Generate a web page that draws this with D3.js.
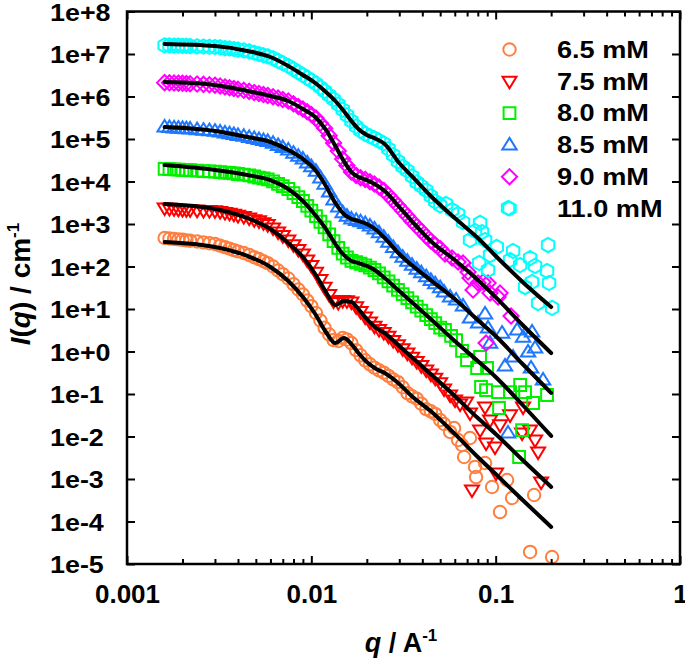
<!DOCTYPE html>
<html>
<head>
<meta charset="utf-8">
<script src="https://cdn.jsdelivr.net/npm/d3@7"></script>
<style>
  body { margin: 0; background: #fff; }
  text { font-family: "Liberation Sans", Arial, sans-serif; font-weight: bold; fill: #000; }
</style>
</head>
<body>
<svg id="canvas"></svg>
<script>
// legend labels, one per concentration
let labels = ['6.5 mM', '7.5 mM', '8.0 mM', '8.5 mM', '9.0 mM', '11.0 mM']

// q grid of the dense low-q part of every data set
let qData = [0.0016, 0.0017, 0.0018, 0.0019, 0.002, 0.0021, 0.0022, 0.0024, 0.0026, 0.0028,
  0.003, 0.0032, 0.0034, 0.0036, 0.0038, 0.004, 0.0043, 0.0046, 0.0049, 0.0052,
  0.0055, 0.0058, 0.0062, 0.0066, 0.007, 0.0075, 0.008, 0.0085, 0.009, 0.0095,
  0.01, 0.0106, 0.0112, 0.0118, 0.0125, 0.0132, 0.014, 0.0148, 0.0156, 0.0165,
  0.0175, 0.0185, 0.0196, 0.0208, 0.022, 0.0233, 0.0247, 0.0262, 0.0278, 0.0295,
  0.0313, 0.0332, 0.0352, 0.0373, 0.0395, 0.042, 0.0445, 0.047, 0.05]

let iData65 = [468, 456, 446, 434, 425, 411, 405, 387, 369, 353,
  338, 310, 285, 264, 243, 227, 208, 187, 165, 150,
  133, 120, 100, 80.5, 65.9, 52.2, 38.5, 28.8, 21.9, 15.8,
  11.7, 8.05, 5.36, 3.61, 2.51, 1.86, 1.77, 2.08, 1.92, 1.58,
  1.08, 0.814, 0.621, 0.5, 0.416, 0.361, 0.319, 0.267, 0.221, 0.19,
  0.144, 0.105, 0.0883, 0.078, 0.0591, 0.044, 0.0392, 0.034, 0.0244]
let iData75 = [2380, 2320, 2270, 2210, 2180, 2160, 2150, 2110, 2080, 2060,
  2040, 1960, 1850, 1780, 1680, 1590, 1500, 1380, 1260, 1180,
  1070, 963, 805, 648, 530, 420, 322, 250, 197, 142,
  105, 72.6, 48.9, 32.4, 21.8, 15.4, 14.1, 15.8, 15.5, 14.6,
  11.3, 8.73, 6.45, 4.94, 3.92, 3.26, 2.8, 2.27, 1.8, 1.44,
  1.15, 0.912, 0.726, 0.579, 0.463, 0.365, 0.292, 0.235, 0.184]
let iData80 = [19800, 19500, 19300, 19000, 18800, 18600, 18400, 18000, 17600, 17300,
  17000, 16600, 16200, 15900, 15500, 15000, 14500, 13900, 13100, 12400,
  11800, 11200, 10100, 8830, 7750, 6660, 5300, 4270, 3480, 2670,
  2070, 1530, 1130, 836, 572, 396, 275, 201, 163, 135,
  126, 116, 106, 93.7, 82.7, 69.2, 55.7, 44.6, 35.5, 28.3,
  22.5, 18, 14.3, 11.4, 9.12, 7.19, 5.75, 4.63, 3.63]
let iData85 = [1.92e5, 1.87e5, 1.83e5, 1.81e5, 1.78e5, 1.75e5, 1.72e5, 1.66e5, 1.62e5, 1.58e5,
  1.54e5, 1.46e5, 1.39e5, 1.33e5, 1.28e5, 1.22e5, 1.16e5, 1.09e5, 1.03e5, 9.73e4,
  9.22e4, 8.78e4, 7.96e4, 7.07e4, 6.31e4, 5.51e4, 4.66e4, 3.94e4, 3.38e4, 2.74e4,
  2.25e4, 1.75e4, 1.22e4, 8690, 5660, 3710, 2540, 1850, 1530, 1310,
  1220, 1130, 1030, 897, 767, 624, 492, 373, 283, 212,
  167, 133, 107, 86.9, 71.5, 57.9, 47.3, 39.4, 31.9]
let iData90 = [2.12e6, 2.1e6, 2.08e6, 2.06e6, 2.04e6, 2.02e6, 2.0e6, 1.97e6, 1.93e6, 1.89e6,
  1.85e6, 1.77e6, 1.68e6, 1.61e6, 1.54e6, 1.48e6, 1.4e6, 1.32e6, 1.24e6, 1.18e6,
  1.11e6, 1.06e6, 9.89e5, 9.17e5, 8.5e5, 7.84e5, 6.73e5, 5.82e5, 5.08e5, 4.37e5,
  3.77e5, 3.12e5, 2.34e5, 1.78e5, 1.2e5, 8.09e4, 5.19e4, 3.37e4, 2.37e4, 1.67e4,
  1.39e4, 1.22e4, 1.12e4, 9890, 8730, 7420, 6170, 4760, 3610, 2710,
  2040, 1530, 1150, 883, 681, 516, 396, 326, 264]
let iData110 = [1.6e7, 1.59e7, 1.58e7, 1.57e7, 1.56e7, 1.55e7, 1.54e7, 1.52e7, 1.5e7, 1.48e7,
  1.46e7, 1.43e7, 1.38e7, 1.35e7, 1.31e7, 1.27e7, 1.22e7, 1.15e7, 1.07e7, 1.0e7,
  9.37e6, 8.83e6, 7.92e6, 6.92e6, 6.07e6, 5.22e6, 4.41e6, 3.73e6, 3.21e6, 2.75e6,
  2.38e6, 2.0e6, 1.64e6, 1.35e6, 1.07e6, 8.59e5, 6.52e5, 4.89e5, 3.63e5, 2.65e5,
  1.98e5, 1.58e5, 1.32e5, 1.16e5, 1.04e5, 9.12e4, 7.84e4, 5.85e4, 4.18e4, 2.99e4,
  2.24e4, 1.8e4, 1.32e4, 9600, 7790, 6200, 4530, 3400, 2740]

// noisy high-q points, own q values per data set
let qTail65 = [0.0525, 0.0566, 0.0595, 0.0625, 0.0657, 0.0674, 0.0726, 0.0773, 0.0783, 0.0876, 0.0956, 0.1056, 0.1153, 0.1227, 0.1537, 0.1616, 0.2023]
let iTail65 = [0.0197, 0.0128, 0.0158, 0.00827, 0.00631, 0.00329, 0.00922, 0.00192, 0.00111, 0.00238, 6.48e-4, 1.67e-4, 9.47e-4, 3.57e-4, 1.92e-5, 4.2e-4, 1.46e-5]
let qTail75 = [0.0525, 0.0566, 0.0602, 0.0641, 0.0691, 0.0726, 0.0744, 0.0823, 0.0876, 0.0887, 0.0932, 0.0992, 0.1005, 0.1056, 0.1197, 0.1391, 0.1408, 0.1537, 0.1636, 0.1699, 0.1764]
let iTail75 = [0.131, 0.0947, 0.0723, 0.0582, 0.0648, 0.0357, 5.51e-4, 0.0142, 0.0494, 0.00703, 0.0244, 0.00566, 0.00138, 0.0187, 0.0321, 0.0121, 0.0494, 0.0142, 0.00827, 0.00432, 8.5e-4]
let qTail80 = [0.0531, 0.0573, 0.061, 0.0657, 0.0699, 0.0793, 0.0823, 0.0833, 0.0887, 0.0898, 0.103, 0.1043, 0.1197, 0.134, 0.1357, 0.1391, 0.1444, 0.1596, 0.19]
let iTail80 = [3.21, 2.32, 1.86, 1.03, 0.631, 0.409, 0.742, 0.146, 0.124, 0.409, 0.111, 0.0468, 0.111, 0.00329, 0.163, 0.0142, 0.111, 0.0614, 0.0947]
let qTail85 = [0.0525, 0.0566, 0.061, 0.0665, 0.0726, 0.0803, 0.0876, 0.0909, 0.0932, 0.1083, 0.1124, 0.1167, 0.1243, 0.1307, 0.1408, 0.1499, 0.1556, 0.1576, 0.1636, 0.1808]
let iTail85 = [25.1, 19.2, 16.3, 11.8, 6.14, 4.69, 7.63, 3.57, 1.58, 2.72, 0.456, 0.0121, 0.742, 3.21, 2.19, 0.973, 0.409, 2.88, 1.21, 0.214]
let qTail90 = [0.0531, 0.058, 0.0625, 0.0665, 0.0708, 0.0726, 0.0754, 0.0803, 0.0854, 0.0887, 0.0909, 0.0932, 0.103, 0.1056, 0.1212]
let iTail90 = [197, 158, 128, 121, 74.2, 53.6, 28.0, 40.9, 43.2, 1.58, 40.9, 23.8, 19.2, 23.8, 6.84]
let qTail110 = [0.0538, 0.058, 0.0625, 0.0665, 0.0726, 0.0773, 0.0813, 0.0823, 0.0843, 0.0876, 0.0909, 0.0932, 0.1014, 0.1167, 0.1197, 0.1243, 0.1357, 0.1444, 0.1537, 0.1576, 0.1636, 0.1699, 0.19, 0.1924, 0.1948, 0.2023]
let iTail110 = [2960, 2130, 1720, 1110, 420, 684, 121, 1060, 648, 420, 82.7, 186, 288, 2380, 142, 232, 108, 32.9, 158, 43.2, 103, 13.8, 78.4, 320, 40.9, 10.6]

// model fits (black lines)
let qFit = [0.0016, 0.003, 0.0045, 0.006, 0.0075, 0.009, 0.0105, 0.012, 0.0135, 0.015, 0.0165, 0.018,
  0.02, 0.0225, 0.025, 0.03, 0.035, 0.045, 0.06, 0.08, 0.1, 0.14, 0.2]
let iFit65 = [377, 288, 177, 97.3, 45.6, 19.1, 7.62, 2.88, 1.58, 2.08, 1.5, 0.923,
  0.566, 0.387, 0.312, 0.172, 0.0897, 0.0377, 0.0115, 0.0033, 0.00131, 3.21e-4, 7.43e-5]
let iFit75 = [2960, 2250, 1380, 762, 357, 167, 66.7, 25.1, 12.4, 15.4, 14.6, 10.0,
  5.82, 3.57, 2.72, 1.35, 0.743, 0.28, 0.0897, 0.0272, 0.0115, 0.0028, 6.49e-4]
let iFit80 = [2.44e4, 1.87e4, 1.42e4, 1.08e4, 6660, 3480, 1630, 762, 338, 187, 135, 121,
  103, 78.3, 53.6, 26.5, 14.6, 5.51, 1.77, 0.597, 0.251, 0.0551, 0.0103]
let iFit85 = [1.91e5, 1.54e5, 1.11e5, 8.5e4, 5.51e4, 3.38e4, 1.87e4, 7830, 3120, 1720, 1310, 1180,
  1000, 723, 469, 197, 108, 45.6, 17.2, 5.51, 2.32, 0.508, 0.106]
let iFit90 = [2.19e6, 1.87e6, 1.35e6, 1.03e6, 7.83e5, 5.08e5, 3.3e5, 1.63e5, 6.84e4, 3.03e4, 1.67e4, 1.28e4,
  1.08e4, 8280, 5970, 2510, 1180, 377, 142, 48.1, 19.1, 4.2, 0.92]
let iFit110 = [1.72e7, 1.54e7, 1.18e7, 8.5e6, 5.22e6, 3.21e6, 2.08e6, 1.28e6, 7.83e5, 4.56e5, 2.65e5, 1.72e5,
  1.24e5, 1.0e5, 7.63e4, 2.72e4, 1.35e4, 4320, 1380, 469, 177, 43.2, 11.1]

let xTicks = [0.001, 0.01, 0.1, 1]
let yTicks = [1e-5, 1e-4, 1e-3, 1e-2, 1e-1, 1, 1e1, 1e2, 1e3, 1e4, 1e5, 1e6, 1e7, 1e8]

let w = 685
let h = 662
let plotL = 127
let plotR = 680
let plotT = 11.5
let plotB = 564

// open marker outlines
let shapes = {
  circle: 'M6.2,0A6.2,6.2 0 1,1 -6.2,0A6.2,6.2 0 1,1 6.2,0Z',
  triDown: 'M-7,-4.6L7,-4.6L0,7Z',
  square: 'M-5.9,-5.9H5.9V5.9H-5.9Z',
  triUp: 'M0,-7L7.2,4.6L-7.2,4.6Z',
  diamond: 'M0,-7.6L7.6,0L0,7.6L-7.6,0Z',
  hexagon: 'M0,-7.2L6.2,-3.6L6.2,3.6L0,7.2L-6.2,3.6L-6.2,-3.6Z'
}

let series = [
  { label: labels[0], color: '#ff7f3f', shape: 'circle', i: iData65, qt: qTail65, it: iTail65, fit: iFit65 },
  { label: labels[1], color: '#ff0000', shape: 'triDown', i: iData75, qt: qTail75, it: iTail75, fit: iFit75 },
  { label: labels[2], color: '#00f000', shape: 'square', i: iData80, qt: qTail80, it: iTail80, fit: iFit80 },
  { label: labels[3], color: '#1e78ff', shape: 'triUp', i: iData85, qt: qTail85, it: iTail85, fit: iFit85 },
  { label: labels[4], color: '#ff00ff', shape: 'diamond', i: iData90, qt: qTail90, it: iTail90, fit: iFit90 },
  { label: labels[5], color: '#00ffff', shape: 'hexagon', i: iData110, qt: qTail110, it: iTail110, fit: iFit110 }
]

let canvas = d3.select('#canvas').attr('width', w).attr('height', h)

let xScale = d3.scaleLog().domain([0.001, 1]).range([plotL, plotR])
let yScale = d3.scaleLog().domain([1e-5, 1e8]).range([plotB, plotT])

// data markers
series.forEach((s) => {
  let pts = qData.map((q, k) => [q, s.i[k]]).concat(s.qt.map((q, k) => [q, s.it[k]]))
  canvas.append('g')
    .selectAll('path')
    .data(pts)
    .enter()
    .append('path')
    .attr('d', shapes[s.shape])
    .attr('transform', (d) => 'translate(' + xScale(d[0]) + ',' + yScale(d[1]) + ')')
    .attr('fill', 'none')
    .attr('stroke', s.color)
    .attr('stroke-width', 2)
})

// fit lines on top
let line = d3.line()
  .x((d) => xScale(d[0]))
  .y((d) => yScale(d[1]))
  .curve(d3.curveMonotoneX)

series.forEach((s) => {
  canvas.append('path')
    .datum(qFit.map((q, k) => [q, s.fit[k]]))
    .attr('d', line)
    .attr('fill', 'none')
    .attr('stroke', '#000')
    .attr('stroke-width', 4)
    .attr('stroke-linecap', 'round')
})

// axes: inward ticks on all four sides
let xMinor = xScale.ticks().filter((d) => !xTicks.some((t) => Math.abs(t - d) / t < 1e-9))
let yMinor = yScale.ticks().filter((d) => !yTicks.some((t) => Math.abs(t - d) / t < 1e-9))

let yFormat = (d) => {
  let e = Math.round(Math.log10(d))
  return '1e' + (e < 0 ? '-' : '+') + Math.abs(e)
}

let addAxis = (axis, tx, ty) => {
  let g = canvas.append('g')
    .attr('transform', 'translate(' + tx + ',' + ty + ')')
    .call(axis)
  g.select('.domain').remove()
  g.attr('font-family', null).attr('font-size', null)
  g.selectAll('line').attr('stroke-width', 2)
  return g
}

addAxis(d3.axisBottom(xScale).tickValues(xMinor).tickSize(-5).tickFormat(''), 0, plotB)
addAxis(d3.axisTop(xScale).tickValues(xMinor).tickSize(-5).tickFormat(''), 0, plotT)
addAxis(d3.axisTop(xScale).tickValues(xTicks).tickSize(-8).tickFormat(''), 0, plotT)
addAxis(d3.axisLeft(yScale).tickValues(yMinor).tickSize(-5).tickFormat(''), plotL, 0)
addAxis(d3.axisRight(yScale).tickValues(yMinor).tickSize(-5).tickFormat(''), plotR, 0)
addAxis(d3.axisRight(yScale).tickValues(yTicks).tickSize(-8).tickFormat(''), plotR, 0)

let xAxisG = addAxis(d3.axisBottom(xScale).tickValues(xTicks).tickSize(-8).tickPadding(21).tickFormat((d) => String(d)), 0, plotB)
xAxisG.selectAll('text').attr('font-size', 26)

let yAxisG = addAxis(d3.axisLeft(yScale).tickValues(yTicks).tickSize(-8).tickFormat(yFormat), plotL, 0)
yAxisG.selectAll('text')
  .attr('font-size', 24)
  .attr('text-anchor', 'start')
  .attr('x', 0)
  .attr('transform', 'translate(' + (50 - plotL) + ',1) scale(1.12,1)')

// frame
canvas.append('rect')
  .attr('x', plotL).attr('y', plotT)
  .attr('width', plotR - plotL).attr('height', plotB - plotT)
  .attr('fill', 'none').attr('stroke', '#000').attr('stroke-width', 2.5)

// axis titles
let yTitle = canvas.append('text')
  .attr('transform', 'translate(30,284) rotate(-90)')
  .attr('text-anchor', 'middle')
  .attr('font-size', 28)
yTitle.append('tspan').attr('font-style', 'italic').text('I')
yTitle.append('tspan').text('(')
yTitle.append('tspan').attr('font-style', 'italic').text('q')
yTitle.append('tspan').text(') / cm')
yTitle.append('tspan').attr('font-size', 17).attr('dy', -11).text('-1')

let xTitle = canvas.append('text')
  .attr('x', 401).attr('y', 652)
  .attr('text-anchor', 'middle')
  .attr('font-size', 27)
xTitle.append('tspan').attr('font-style', 'italic').text('q')
xTitle.append('tspan').text(' / A')
xTitle.append('tspan').attr('font-size', 17).attr('dy', -11).text('-1')

// legend
let legend = canvas.append('g')
series.forEach((s, k) => {
  let ly = 49.5 + k * 31.8
  legend.append('path')
    .attr('d', shapes[s.shape])
    .attr('transform', 'translate(509.5,' + ly + ')')
    .attr('fill', 'none')
    .attr('stroke', s.color)
    .attr('stroke-width', 2)
  legend.append('text')
    .attr('transform', 'translate(557,' + ly + ') scale(1.18,1)')
    .attr('dy', '0.36em')
    .attr('font-size', 23)
    .text(s.label)
})
</script>
</body>
</html>
